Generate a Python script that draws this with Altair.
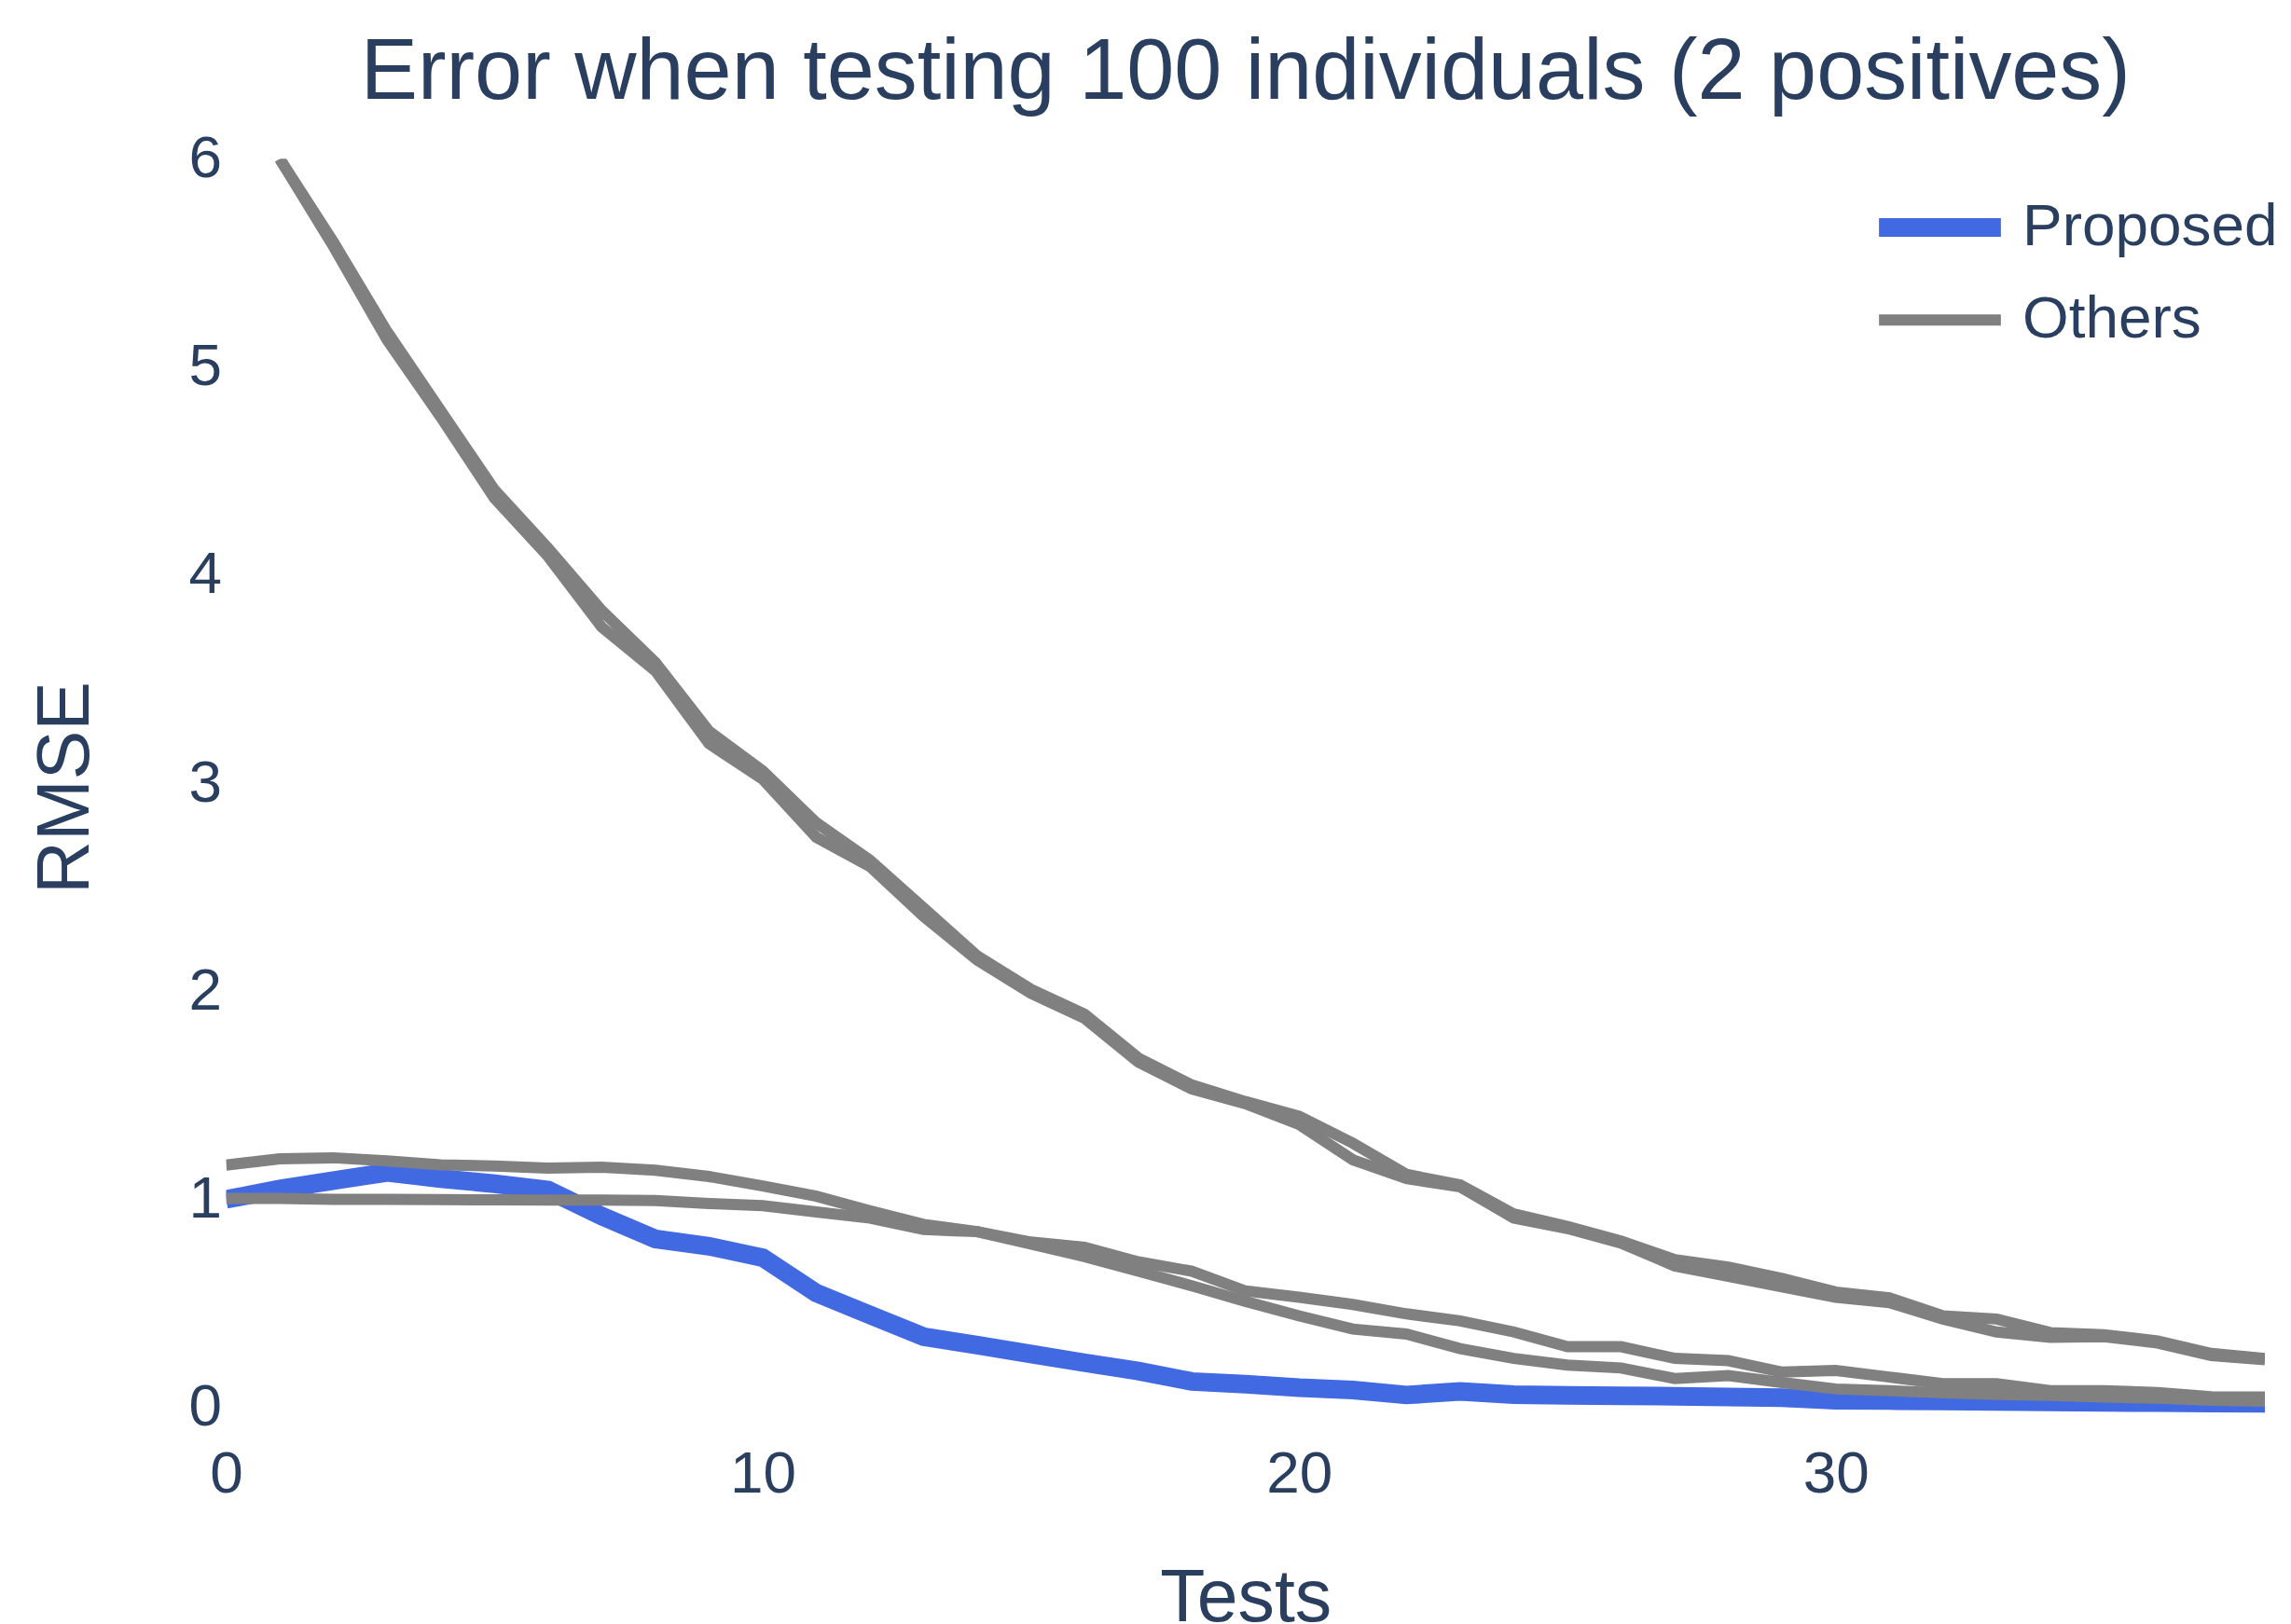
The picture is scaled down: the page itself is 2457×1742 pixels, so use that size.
import altair as alt
import pandas as pd

tests = list(range(39))
proposed = [1.00, 1.05, 1.09, 1.13, 1.10, 1.075, 1.045, 0.92, 0.81, 0.775,
            0.72, 0.55, 0.445, 0.34, 0.30, 0.257, 0.215, 0.175, 0.125, 0.112,
            0.095, 0.084, 0.06, 0.077, 0.062, 0.058, 0.056, 0.054, 0.05, 0.047,
            0.035, 0.033, 0.031, 0.029, 0.027, 0.025, 0.023, 0.021, 0.02]
other_a = [None, 6.0, 5.60, 5.17, 4.79, 4.41, 4.13, 3.83, 3.58, 3.25,
           3.06, 2.81, 2.63, 2.40, 2.17, 2.01, 1.89, 1.68, 1.55, 1.47,
           1.40, 1.27, 1.12, 1.07, 0.93, 0.87, 0.80, 0.71, 0.675, 0.62,
           0.555, 0.527, 0.44, 0.425, 0.36, 0.35, 0.32, 0.26, 0.235]
other_b = [None, 6.0, 5.58, 5.13, 4.76, 4.37, 4.09, 3.75, 3.54, 3.19,
           3.02, 2.74, 2.60, 2.36, 2.15, 1.99, 1.87, 1.66, 1.53, 1.46,
           1.36, 1.19, 1.10, 1.06, 0.91, 0.86, 0.79, 0.68, 0.63, 0.58,
           0.53, 0.504, 0.425, 0.363, 0.337, 0.34, 0.31, 0.25, 0.23]
other_c = [1.165, 1.195, 1.20, 1.185, 1.166, 1.16, 1.15, 1.155, 1.14, 1.11,
           1.065, 1.015, 0.945, 0.88, 0.845, 0.785, 0.725, 0.655, 0.585, 0.51,
           0.44, 0.377, 0.353, 0.283, 0.236, 0.204, 0.19, 0.139, 0.153, 0.12,
           0.089, 0.081, 0.07, 0.063, 0.058, 0.05, 0.045, 0.035, 0.03]
other_d = [1.005, 1.005, 1.0, 1.0, 0.999, 0.998, 0.997, 0.997, 0.995, 0.98,
           0.97, 0.94, 0.91, 0.855, 0.845, 0.795, 0.77, 0.70, 0.655, 0.56,
           0.53, 0.495, 0.45, 0.416, 0.363, 0.292, 0.292, 0.236, 0.225, 0.17,
           0.178, 0.146, 0.114, 0.114, 0.081, 0.081, 0.072, 0.052, 0.05]

methods = ["Proposed", "Others"]
colors = ["#4169e1", "#808080"]
widths = [20, 12]

rows = []
for t, v in zip(tests, proposed):
    rows.append({"test": t, "rmse": v, "method": "Proposed", "series": "p"})
for name, vals in [("a", other_a), ("b", other_b), ("c", other_c), ("d", other_d)]:
    for t, v in zip(tests, vals):
        if v is not None:
            rows.append({"test": t, "rmse": v, "method": "Others", "series": name})
df = pd.DataFrame(rows)

FONT = "Liberation Sans"
TXT = "#2a3f5f"

leg = alt.Legend(
    orient="none", legendX=1798.75, legendY=30.75, title=None,
    labelFontSize=64, labelColor=TXT, labelFont=FONT, labelLimit=1000,
    symbolType="M-2,0L2,0", symbolSize=4290, labelOffset=45.75,
    rowPadding=20.5, padding=0,
)

x = alt.X("test:Q", scale=alt.Scale(domain=[0, 38], nice=False, zero=False),
          axis=alt.Axis(values=[0, 10, 20, 30], title="Tests", labelFontSize=64,
                        labelPadding=31, titleFontSize=79, titleY=158,
                        labelFlush=False))
y = alt.Y("rmse:Q", scale=alt.Scale(domain=[-0.04, 6], nice=False, zero=False),
          axis=alt.Axis(values=[0, 1, 2, 3, 4, 5, 6], title="RMSE", labelFontSize=64,
                        labelPadding=5, titleFontSize=79, titleX=-131,
                        labelFlush=False))
color = alt.Color("method:N", scale=alt.Scale(domain=methods, range=colors), legend=leg)
sw = alt.StrokeWidth("method:N", scale=alt.Scale(domain=methods, range=widths), legend=leg)

blue = alt.Chart(df[df.method == "Proposed"]).mark_line(clip=True).encode(
    x=x, y=y, color=color, strokeWidth=sw, detail="series:N")
gray = alt.Chart(df[df.method == "Others"]).mark_line(clip=True).encode(
    x=x, y=y, color=color, strokeWidth=sw, detail="series:N")

chart = alt.layer(blue, gray).properties(
    width=2191, height=1351,
    background="white",
    title=alt.TitleParams("Error when testing 100 individuals (2 positives)",
                          fontSize=92, font=FONT, fontWeight="normal", color=TXT,
                          anchor="middle", frame="group", baseline="alphabetic",
                          offset=30, dy=89),
    autosize=alt.AutoSizeParams(type="none"),
    padding={"left": 235, "top": 161, "right": 20, "bottom": 222},
).configure_view(stroke=None).configure_axis(
    domain=False, ticks=False, tickSize=0, grid=False,
    labelFont=FONT, labelColor=TXT, titleFont=FONT, titleColor=TXT,
    titleFontWeight="normal",
)

chart.save("out.html", embed_options={"renderer": "svg", "actions": False})
